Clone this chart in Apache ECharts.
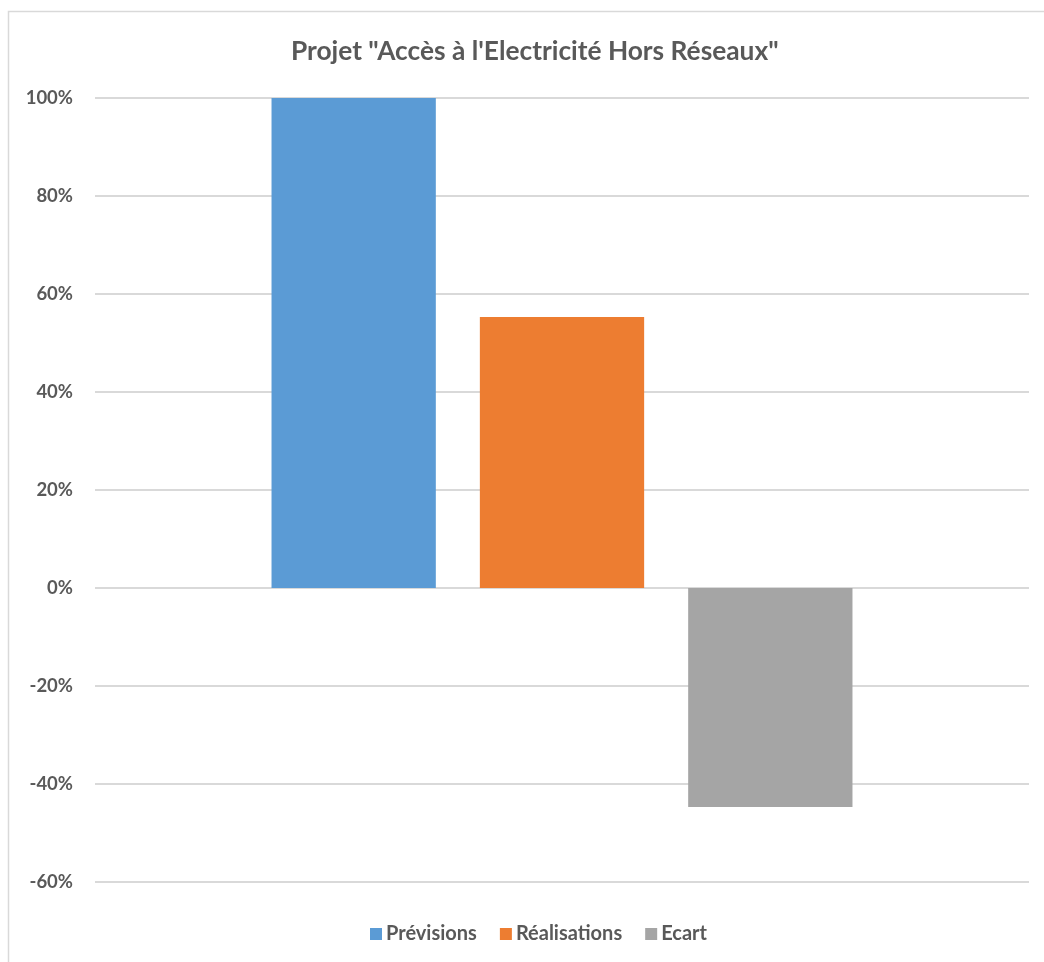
<!DOCTYPE html>
<html><head><meta charset="utf-8">
<script src="https://cdn.jsdelivr.net/npm/echarts@6/dist/echarts.min.js"></script>
<style>html,body{margin:0;padding:0;background:#fff}#c{width:1044px;height:962px}</style>
</head><body><div id="c"></div>
<script>
const title = 'Projet "Accès à l\'Electricité Hors Réseaux"';
const categories = [''];
const seriesNames = ['Prévisions', 'Réalisations', 'Ecart'];
const seriesValues = [[100], [55.3], [-44.7]];
const seriesColors = ['#5B9BD5', '#ED7D31', '#A5A5A5'];
const yTicks = { min: -60, max: 100, interval: 20 };

const chart = echarts.init(document.getElementById('c'));
const font = 'Lato';
chart.setOption({
  animation: false,
  backgroundColor: '#fff',
  graphic: [{ type: 'rect', shape: { x: 8.5, y: 11.5, width: 1100, height: 1100 }, style: { fill: 'none', stroke: '#D9D9D9', lineWidth: 1.5 } }],
  title: { text: title, left: 286, top: 34, textStyle: { fontFamily: font, fontWeight: 'bold', fontSize: 26.3, color: '#595959' } },
  legend: {
    bottom: 13, left: 365, itemWidth: 12, itemHeight: 12, itemGap: 23,
    icon: 'rect',
    textStyle: { fontFamily: font, fontWeight: 'bold', fontSize: 20, color: '#595959', padding: [0, 0, 0, -1] },
    data: seriesNames
  },
  grid: { left: 95, right: 15, top: 98, bottom: 80, containLabel: false },
  xAxis: { type: 'category', data: categories, axisLine: { show: false }, axisTick: { show: false }, axisLabel: { show: false } },
  yAxis: {
    type: 'value', min: yTicks.min, max: yTicks.max, interval: yTicks.interval,
    axisLine: { show: false }, axisTick: { show: false },
    axisLabel: { formatter: v => v + '%', fontFamily: font, fontWeight: 'bold', fontSize: 18.5, color: '#595959', margin: 22 },
    splitLine: { lineStyle: { color: '#D9D9D9', width: 2 } }
  },
  series: seriesNames.map((n, i) => ({
    name: n, type: 'bar', data: seriesValues[i], barGap: '26.8%', barCategoryGap: '37.8%',
    itemStyle: { color: seriesColors[i] }
  }))
});
</script></body></html>
